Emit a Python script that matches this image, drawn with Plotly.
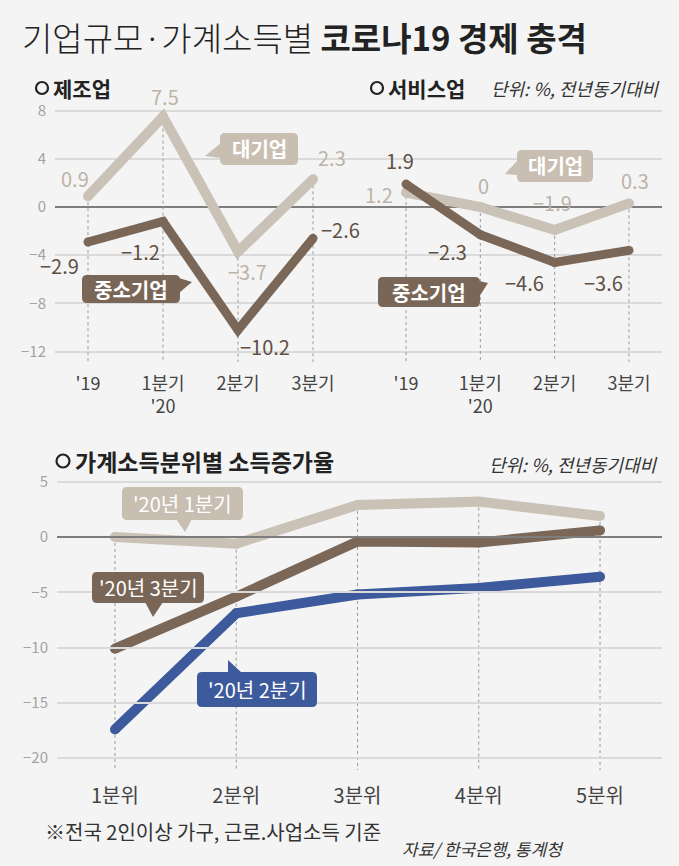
import plotly.graph_objects as go

W, H = 679, 866

# ---------------- data ----------------
quarters = ["'19", "1분기<br>'20", "2분기", "3분기"]
mfg_large = [0.9, 7.5, -3.7, 2.3]      # 제조업 대기업
mfg_small = [-2.9, -1.2, -10.2, -2.6]  # 제조업 중소기업
svc_large = [1.2, 0, -1.9, 0.3]        # 서비스업 대기업
svc_small = [1.9, -2.3, -4.6, -3.6]    # 서비스업 중소기업

quintiles = ["1분위", "2분위", "3분위", "4분위", "5분위"]
inc_2020q1 = [0.0, -0.6, 2.9, 3.2, 1.9]
inc_2020q2 = [-17.4, -6.9, -5.2, -4.6, -3.6]
inc_2020q3 = [-10.1, -5.4, -0.4, -0.5, 0.6]

# ---------------- style ----------------
FONT = "Noto Sans CJK KR"
BG = "#f4f4f4"
LIGHT = "#cbc2b7"
LIGHT_TXT = "#bdb3a8"
BROWN = "#7b6757"
BROWN_TXT = "#5f5045"
BLUE = "#3d5a9c"
GRID = "#dadada"

TOP_RANGE = [-12.86, 8.88]
BOT_RANGE = [-21.07, 6.06]


def px(x, y):
    return x / W, 1 - y / H


def fmt(v):
    s = f"{v:g}"
    return s.replace("-", "\u2212")


fig = go.Figure()

# full-width dummy subplots (carry the shared horizontal gridlines)
fig.add_trace(go.Scatter(x=[], y=[], xaxis="x", yaxis="y", showlegend=False))
fig.add_trace(go.Scatter(x=[], y=[], xaxis="x5", yaxis="y2", showlegend=False))


def droplines(n, series, bottom, xa, ya):
    xs, ys = [], []
    for i in range(n):
        top = max(s[i] for s in series)
        xs += [i, i, None]
        ys += [top, bottom, None]
    fig.add_trace(go.Scatter(x=xs, y=ys, xaxis=xa, yaxis=ya, mode="lines",
                             line=dict(color="#9a9a9a", width=1, dash="dot"),
                             hoverinfo="skip", showlegend=False))


def series_line(vals, color, width, xa, ya, name):
    fig.add_trace(go.Scatter(x=list(range(len(vals))), y=vals, xaxis=xa, yaxis=ya,
                             mode="lines+markers", name=name,
                             line=dict(color=color, width=width),
                             marker=dict(color=color, size=width, line=dict(width=0)),
                             showlegend=False))


droplines(4, [mfg_large, mfg_small], TOP_RANGE[0], "x2", "y")
droplines(4, [svc_large, svc_small], TOP_RANGE[0], "x3", "y")
droplines(5, [inc_2020q1, inc_2020q2, inc_2020q3], BOT_RANGE[0], "x4", "y2")

series_line(mfg_large, LIGHT, 10, "x2", "y", "제조업 대기업")
series_line(mfg_small, BROWN, 9, "x2", "y", "제조업 중소기업")
series_line(svc_large, LIGHT, 10, "x3", "y", "서비스업 대기업")
series_line(svc_small, BROWN, 9, "x3", "y", "서비스업 중소기업")

series_line(inc_2020q1, LIGHT, 10, "x4", "y2", "'20년 1분기")
series_line(inc_2020q3, BROWN, 10, "x4", "y2", "'20년 3분기")
series_line(inc_2020q2, BLUE, 10, "x4", "y2", "'20년 2분기")

annotations = []


# value labels (pixel offsets from each point)
def value_labels(vals, offsets, xa, color):
    for i, (v, (dx, dy)) in enumerate(zip(vals, offsets)):
        annotations.append(dict(x=i, y=v, xref=xa, yref="y", text=fmt(v),
                                showarrow=False, xshift=dx, yshift=-dy,
                                xanchor="center", yanchor="middle",
                                font=dict(family=FONT, size=20, color=color)))


value_labels(mfg_large, [(-13, -18), (2, -20), (9, 20), (19, -22)], "x2", LIGHT_TXT)
value_labels(mfg_small, [(-29, 24), (-23, 30), (27, 17), (27, -9)], "x2", BROWN_TXT)
value_labels(svc_large, [(-27, 2), (3, -22), (-2, -27), (6, -23)], "x3", LIGHT_TXT)
value_labels(svc_small, [(-6, -24), (-33, 17), (-30, 20), (-26, 32)], "x3", BROWN_TXT)

# callout bubbles
shapes = []


def P(x, y):
    a, b = px(x, y)
    return f"{a:.5f},{b:.5f}"


def rrect_path(x0, y0, x1, y1, r=5):
    return (f"M {P(x0 + r, y0)} L {P(x1 - r, y0)} Q {P(x1, y0)} {P(x1, y0 + r)} "
            f"L {P(x1, y1 - r)} Q {P(x1, y1)} {P(x1 - r, y1)} "
            f"L {P(x0 + r, y1)} Q {P(x0, y1)} {P(x0, y1 - r)} "
            f"L {P(x0, y0 + r)} Q {P(x0, y0)} {P(x0 + r, y0)} Z")


def tri_path(a, b, c):
    return f"M {P(*a)} L {P(*b)} L {P(*c)} Z"


def bubble(box, tri, color, text, size=20, bold=True):
    x0, y0, x1, y1 = box
    shapes.append(dict(type="path", xref="paper", yref="paper", path=rrect_path(x0, y0, x1, y1),
                       fillcolor=color, line=dict(width=0), layer="above"))
    shapes.append(dict(type="path", xref="paper", yref="paper", path=tri_path(*tri),
                       fillcolor=color, line=dict(width=0), layer="above"))
    cx, cy = px((x0 + x1) / 2, (y0 + y1) / 2)
    annotations.append(dict(x=cx, y=cy, xref="paper", yref="paper", showarrow=False,
                            xanchor="center", yanchor="middle",
                            text=f"<b>{text}</b>" if bold else text,
                            font=dict(family=FONT, size=size, color="white")))


bubble((220, 133, 298, 165), ((221, 143), (205, 156), (221, 158)), "#c8beb2", "대기업")
bubble((82, 275, 180, 303), ((179, 278), (192, 282), (179, 293)), "#7a6656", "중소기업")
bubble((517, 150, 593, 182), ((518, 160), (505, 174), (518, 175)), "#c8beb2", "대기업")
bubble((378, 277, 480, 307), ((479, 281), (488, 283), (479, 297)), "#7a6656", "중소기업")
bubble((122, 487, 243, 520), ((176, 519), (185, 532), (192, 519)), "#c8beb2", "'20년 1분기", 20, False)
bubble((92, 572, 204, 603), ((145, 602), (153, 617), (163, 602)), "#7a6656", "'20년 3분기", 20, False)
bubble((197, 672, 317, 707), ((228, 673), (228, 660), (242, 673)), BLUE, "'20년 2분기", 20, False)


def text_px(x, y, text, size, color="#222", anchor="left", style="normal", weight=None):
    a, b = px(x, y)
    f = dict(family=FONT, size=size, color=color, style=style)
    if weight:
        f["weight"] = weight
    annotations.append(dict(x=a, y=b, xref="paper", yref="paper", text=text, showarrow=False,
                            xanchor=anchor, yanchor="middle", font=f))


def ring(cx, cy, r=6):
    a0, b0 = px(cx - r, cy + r)
    a1, b1 = px(cx + r, cy - r)
    shapes.append(dict(type="circle", xref="paper", yref="paper", x0=a0, y0=b0, x1=a1, y1=b1,
                       line=dict(color="#222", width=2.2), fillcolor="rgba(0,0,0,0)"))


text_px(20, 37, "기업규모·가계소득별 <b>코로나19 경제 충격</b>", 33, "#222", weight=300)
ring(42, 88)
text_px(51, 88, "<b>제조업</b>", 21, "#222")
ring(377, 88)
text_px(386, 88, "<b>서비스업</b>", 21, "#222")
text_px(662, 88, "단위: %, 전년동기대비", 18, "#333", anchor="right", style="italic")
ring(63, 461, 6.5)
text_px(73, 461, "<b>가계소득분위별 소득증가율</b>", 23, "#222")
text_px(660, 464, "단위: %, 전년동기대비", 18, "#333", anchor="right", style="italic")
text_px(43, 831, "※전국 2인이상 가구, 근로.사업소득 기준", 20, "#333")
text_px(400, 848, "자료/ 한국은행, 통계청", 17, "#333", style="italic")

# ---------------- axes ----------------
ytop_dom = [1 - 362 / H, 1 - 100 / H]
ybot_dom = [1 - 770 / H, 1 - 470 / H]

yfont = dict(family=FONT, size=15, color="#a3a3a3")
xfont = dict(family=FONT, size=18, color="#444")

fig.update_layout(
    width=W, height=H,
    margin=dict(l=0, r=0, t=0, b=0),
    paper_bgcolor=BG, plot_bgcolor="rgba(0,0,0,0)",
    showlegend=False,
    xaxis=dict(domain=[55 / W, 662 / W], range=[0, 1], visible=False, anchor="y"),
    xaxis2=dict(domain=[55 / W, 340 / W], range=[-0.44, 3.36], anchor="y",
                tickvals=list(range(4)), ticktext=quarters, showgrid=False, zeroline=False,
                showline=False, ticks="", tickfont=xfont, ticklabelstandoff=9),
    xaxis3=dict(domain=[340 / W, 662 / W], range=[-0.888, 3.444], anchor="y",
                tickvals=list(range(4)), ticktext=quarters, showgrid=False, zeroline=False,
                showline=False, ticks="", tickfont=xfont, ticklabelstandoff=9),
    yaxis=dict(domain=ytop_dom, range=TOP_RANGE, anchor="x", tick0=0, dtick=4,
               showgrid=True, gridcolor=GRID, gridwidth=1.5,
               zeroline=True, zerolinecolor="#7d7d7d", zerolinewidth=1.5,
               showline=False, ticks="", tickfont=yfont, ticklabelstandoff=8),
    xaxis4=dict(domain=[57 / W, 662 / W], range=[-0.478, 4.511], anchor="y2",
                tickvals=list(range(5)), ticktext=quintiles, showgrid=False, zeroline=False,
                showline=False, ticks="", tickfont=dict(family=FONT, size=20, color="#444"),
                ticklabelstandoff=12),
    xaxis5=dict(domain=[57 / W, 662 / W], range=[0, 1], visible=False, anchor="y2"),
    yaxis2=dict(domain=ybot_dom, range=BOT_RANGE, anchor="x4", tick0=0, dtick=5,
                showgrid=True, gridcolor=GRID, gridwidth=1.5,
                zeroline=True, zerolinecolor="#7d7d7d", zerolinewidth=1.5,
                showline=False, ticks="", tickfont=yfont, ticklabelstandoff=8),
    shapes=shapes,
    annotations=annotations,
)

fig.write_html(
    "out.html",
    config={"displayModeBar": False},
    post_script="document.body.style.margin='0';document.body.style.background='#f4f4f4';",
)
